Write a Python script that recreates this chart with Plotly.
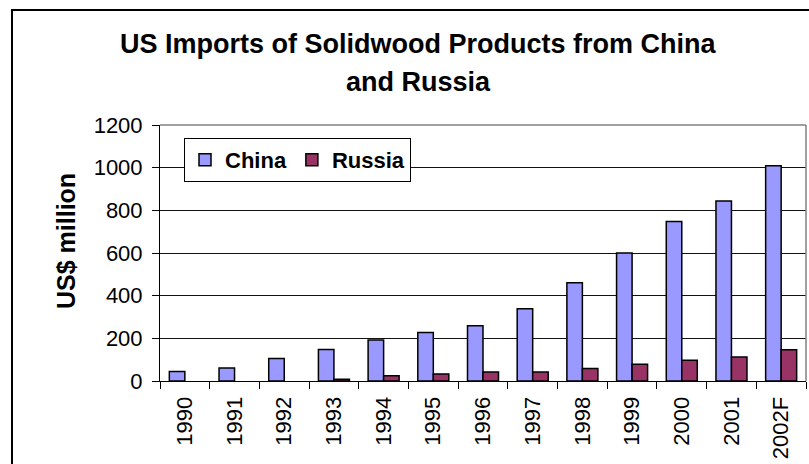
import plotly.graph_objects as go

# US imports of solidwood products, US$ million
years = ["1990", "1991", "1992", "1993", "1994", "1995", "1996",
         "1997", "1998", "1999", "2000", "2001", "2002F"]
china = [44, 61, 105, 148, 192, 227, 259, 339, 461, 600, 748, 844, 1009]
russia = [None, None, None, 8, 25, 33, 42, 42, 59, 78, 97, 112, 147]

y_ticks = [0, 200, 400, 600, 800, 1000, 1200]

title_lines = ["US Imports of Solidwood Products from China", "and Russia"]
y_title = "US$ million"

FONT = "Arial, Liberation Sans, sans-serif"

# plot area in pixels: left 160, top 125, width 646, height 256
L, T, W, H = 160, 125, 646, 256


def px_x(px):
    return (px - L) / W


def px_y(py):
    return 1 + (T - py) / H


fig = go.Figure()
fig.add_trace(go.Bar(
    name="China", x=years, y=china,
    marker=dict(color="#9999FF", line=dict(color="black", width=1.5)),
))
fig.add_trace(go.Bar(
    name="Russia", x=years, y=russia,
    marker=dict(color="#993366", line=dict(color="black", width=1.5)),
))

fig.update_layout(
    width=809, height=464,
    margin=dict(l=L, r=809 - L - W, t=T, b=464 - T - H, autoexpand=False),
    paper_bgcolor="white", plot_bgcolor="white",
    barmode="group", bargap=0.376, bargroupgap=0,
    font=dict(family=FONT, color="black", size=20),
    legend=dict(
        orientation="h", x=px_x(184), y=px_y(138), xanchor="left", yanchor="top",
        bgcolor="white", bordercolor="black", borderwidth=1,
        font=dict(family=FONT, size=22, color="black", weight="bold"),
        traceorder="normal",
    ),
    showlegend=True,
)

fig.update_xaxes(
    type="category", showgrid=False,
    showline=True, linecolor="black", linewidth=1,
    ticks="outside", tickson="boundaries", ticklen=7, tickcolor="black",
    tickangle=-90, ticklabelstandoff=6,
    tickfont=dict(family=FONT, size=22, color="black"),
)
fig.update_yaxes(
    range=[0, 1200], tickvals=y_ticks, fixedrange=True,
    showgrid=True, gridcolor="#111111", gridwidth=1,
    showline=True, linecolor="black", linewidth=1,
    ticks="outside", ticklen=7, tickcolor="black", ticklabelstandoff=5,
    tickfont=dict(family=FONT, size=22, color="black"),
    zeroline=False,
)

# chart title, two centred lines
for text, py in zip(title_lines, [44, 82]):
    fig.add_annotation(
        text=f"<b>{text}</b>", xref="paper", yref="paper",
        x=px_x(418), y=px_y(py), xanchor="center", yanchor="middle",
        showarrow=False, font=dict(family=FONT, size=27, color="black"),
    )

# vertical axis title
fig.add_annotation(
    text=f"<b>{y_title}</b>", xref="paper", yref="paper",
    x=px_x(66), y=px_y(241), xanchor="center", yanchor="middle",
    textangle=-90, showarrow=False,
    font=dict(family=FONT, size=25, color="black"),
)

# grey plot-area frame (top and right edges)
fig.add_shape(type="line", xref="paper", yref="paper", x0=0, x1=1, y0=1, y1=1,
              line=dict(color="#808080", width=1.5))
fig.add_shape(type="line", xref="paper", yref="paper", x0=1, x1=1, y0=0, y1=1,
              line=dict(color="#808080", width=1.5))
# outer chart border
fig.add_shape(type="rect", xref="paper", yref="paper",
              x0=px_x(12), x1=px_x(850), y0=px_y(520), y1=px_y(10),
              line=dict(color="black", width=2), fillcolor="rgba(0,0,0,0)")

fig.write_html("out.html")
